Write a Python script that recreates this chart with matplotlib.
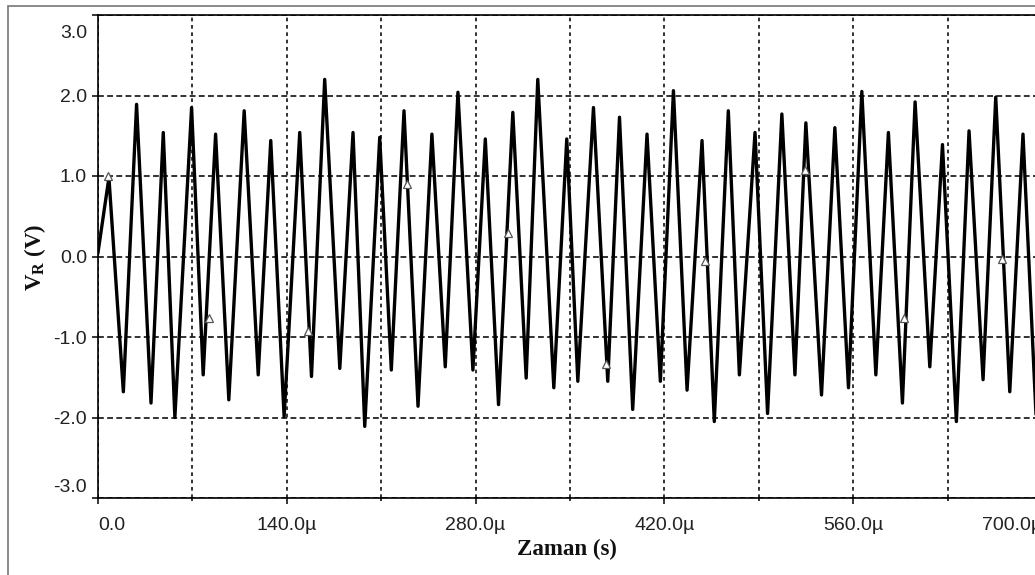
import matplotlib.pyplot as plt
from matplotlib.patches import Rectangle
from matplotlib.ticker import MultipleLocator, FixedLocator
from matplotlib.transforms import ScaledTranslation

plt.rcParams['font.family'] = ['Liberation Sans', 'DejaVu Sans']
plt.rcParams['mathtext.fontset'] = 'custom'
plt.rcParams['mathtext.rm'] = 'Liberation Serif'
plt.rcParams['mathtext.bf'] = 'Liberation Serif:bold'

# peaks / troughs of the trace, time in microseconds, voltage in V
t_us = [0, 8.1, 18.8, 28.6, 39.3, 48.4, 57.0, 69.4, 78.0, 87.2, 97.0,
        108.4, 118.8, 128.1, 138.0, 149.6, 158.3, 168.1, 179.3, 189.1, 197.8,
        208.9, 217.5, 226.9, 237.3, 247.6, 257.5, 266.9, 278.0, 287.2, 297.0,
        307.6, 317.5, 326.1, 338.0, 347.6, 355.8, 367.4, 378.0, 386.7, 396.5,
        407.1, 417.0, 426.7, 436.8, 447.9, 457.0, 467.4, 475.6, 487.2, 496.5,
        507.1, 516.8, 524.9, 536.5, 546.4, 556.5, 566.4, 576.8, 586.1, 596.5,
        605.9, 616.8, 626.2, 636.5, 645.9, 656.3, 665.7, 676.1, 685.9, 695.5]
v_r = [0.05, 0.98, -1.68, 1.89, -1.82, 1.54, -2.0, 1.85, -1.47, 1.52, -1.78,
       1.81, -1.47, 1.44, -1.99, 1.54, -1.49, 2.2, -1.39, 1.54, -2.11,
       1.48, -1.41, 1.81, -1.86, 1.52, -1.37, 2.04, -1.41, 1.46, -1.84,
       1.79, -1.51, 2.2, -1.63, 1.46, -1.55, 1.85, -1.55, 1.73, -1.9,
       1.52, -1.55, 2.06, -1.66, 1.44, -2.05, 1.81, -1.47, 1.54, -1.95,
       1.77, -1.47, 1.66, -1.72, 1.6, -1.63, 2.05, -1.47, 1.54, -1.82,
       1.92, -1.37, 1.39, -2.05, 1.56, -1.53, 1.98, -1.68, 1.52, -1.95]

# small triangle markers sitting on the trace
mark_t = [7.4, 82.2, 155.8, 229.4, 304.0, 376.8, 450.3, 524.2, 597.8, 670.6]
mark_v = [1.0, -0.76, -0.93, 0.9, 0.29, -1.33, -0.06, 1.08, -0.76, -0.03]

xticks = [0, 140, 280, 420, 560, 700]
xlabels = ['0.0', '140.0\u00b5', '280.0\u00b5', '420.0\u00b5', '560.0\u00b5', '700.0\u00b5']
yticks = [-3, -2, -1, 0, 1, 2, 3]
ylabels = ['-3.0', '-2.0', '-1.0', '0.0', '1.0', '2.0', '3.0']

fig = plt.figure(figsize=(10.35, 5.75), dpi=100)
ax = fig.add_axes([98/1035, 77/575, (1042-98)/1035, (498-15)/575])

ax.plot(t_us, v_r, color='black', lw=2.4, zorder=3)
ax.plot(mark_t, mark_v, ls='none', marker='^', mfc='white', mec='#555555',
        ms=6, mew=0.9, zorder=4)

ax.set_xlim(0, 700)
ax.set_ylim(-3, 3)
ax.xaxis.set_major_locator(FixedLocator(xticks))
ax.xaxis.set_minor_locator(MultipleLocator(70))
ax.set_xticklabels(xlabels)
ax.set_yticks(yticks)
ax.set_yticklabels(ylabels)

ax.xaxis.grid(True, which='both', ls=(0, (2.2, 2.2)), color='#111111', lw=1.2)
ax.yaxis.grid(True, which='major', ls=(0, (3.5, 2.0)), color='#111111', lw=1.2)
ax.set_axisbelow(True)

for s in ax.spines.values():
    s.set_linewidth(1.2)
ax.spines['right'].set_visible(False)

ax.tick_params(axis='x', which='major', length=4, width=1.1, pad=10,
               labelsize=14, labelcolor='#222222')
ax.tick_params(axis='x', which='minor', length=2.5, width=1.1)
ax.tick_params(axis='y', length=4, width=1.1, pad=4, labelsize=14,
               labelcolor='#222222')

# end labels are kept inside the plot area
xl = ax.get_xticklabels()
xl[0].set_ha('left')
xl[-1].set_ha('right')
yl = ax.get_yticklabels()
yl[0].set_transform(yl[0].get_transform() + ScaledTranslation(0, 12/100, fig.dpi_scale_trans))
yl[-1].set_transform(yl[-1].get_transform() + ScaledTranslation(0, -16/100, fig.dpi_scale_trans))

fig.text(567/1035, 1 - 549/575, 'Zaman (s)', ha='center', va='center',
         family='Liberation Serif', weight='bold', fontsize=16.5, color='#111111')
fig.text(35/1035, 1 - 257/575, r'$\mathbf{V}_{\mathbf{R}}$ (V)', ha='center',
         va='center', rotation=90, family='Liberation Serif', weight='bold',
         fontsize=16.5, color='#111111')

# outer window frame
fig.add_artist(Rectangle((7.5/1035, -0.05), 1.2, 1 - 5.5/575 + 0.05,
                         transform=fig.transFigure, fill=False,
                         edgecolor='#777777', lw=1.2, clip_on=False))

plt.savefig('out.png', dpi=100)
plt.close()
